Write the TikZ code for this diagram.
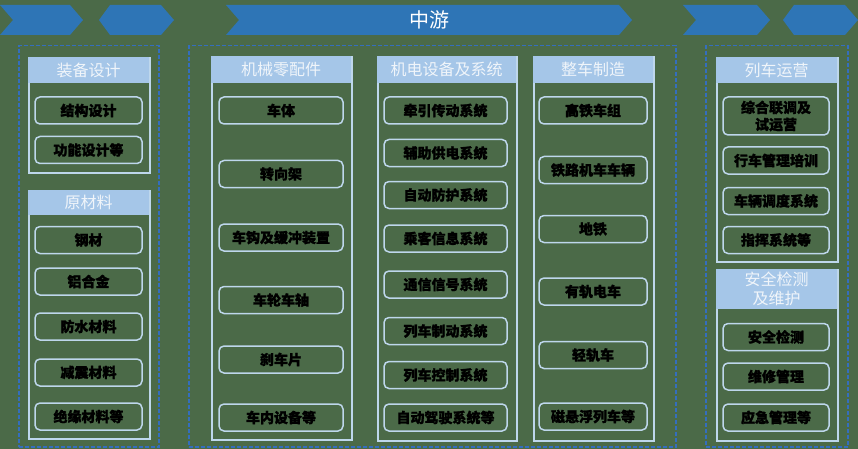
\documentclass[tikz,border=0pt]{standalone}
\usepackage{fontspec}
\newfontfamily\cjk[BoldFeatures={FakeBold=1.5}]{Noto Sans CJK SC}
\definecolor{bg}{RGB}{75,106,72}
\definecolor{arrowblue}{RGB}{46,117,182}
\definecolor{dashblue}{RGB}{52,110,190}
\definecolor{headfill}{RGB}{165,198,232}
\definecolor{lineblue}{RGB}{190,215,236}
\definecolor{headtext}{RGB}{240,245,250}
\tikzset{
  chev/.style={fill=arrowblue, draw=none},
  outerbox/.style={draw=dashblue, line width=1.5pt, dash pattern=on 4pt off 2pt, anchor=north west, inner sep=0pt},
  body/.style={draw=lineblue, line width=1.5pt, anchor=north west, inner sep=0pt},
  head/.style={fill=headfill, draw=none, anchor=north west, inner sep=0pt, text=headtext, align=center,
    font=\cjk\fontsize{16}{19}\selectfont},
  item/.style={draw=lineblue, line width=1.5pt, rounded corners=5pt, inner sep=0pt, text=black, align=center,
    minimum height=27pt, font=\cjk\bfseries\fontsize{14}{16}\selectfont},
  colA/.style={item, minimum width=107pt},
  colB/.style={item, minimum width=124pt},
  colC/.style={item, minimum width=123pt},
  colD/.style={item, minimum width=108pt},
  colE/.style={item, minimum width=106pt},
}
\begin{document}
\begin{tikzpicture}[x=1pt,y=-1pt]
\fill[bg] (0,0) rectangle (858,449);
\useasboundingbox (0,0) rectangle (858,449);
% top arrows
\fill[chev] (0,5) -- (70,5) -- (83,20) -- (70,35) -- (0,35) -- (13,20) -- cycle;
\fill[chev] (110,5) -- (161,5) -- (174,20) -- (161,35) -- (110,35) -- (99,20) -- cycle;
\fill[chev] (226,5) -- (619,5) -- (632,20) -- (619,35) -- (226,35) -- (239,20) -- cycle;
\node[text=white, font=\cjk\fontsize{20}{24}\selectfont] (mid) at (429,20) {中游};
\fill[chev] (683,5) -- (757,5) -- (770,20) -- (757,35) -- (683,35) -- (696,20) -- cycle;
\fill[chev] (794,5) -- (845,5) -- (858,20) -- (845,35) -- (794,35) -- (783,20) -- cycle;
% outer dashed boxes
\node[outerbox, minimum width=140pt, minimum height=401pt] (L) at (18,45) {};
\node[outerbox, minimum width=487pt, minimum height=401pt] (M) at (188,45) {};
\node[outerbox, minimum width=142pt, minimum height=401pt] (R) at (705,45) {};
% left panels
\node[body, minimum width=121pt, minimum height=115pt] (b1) at (28,57) {};
\node[head, minimum width=121pt, minimum height=26pt] (h1) at (28,57) {装备设计};
\node[colA] (a1) at (88.5,110.5) {结构设计};
\node[colA] (a2) at (88.5,150) {功能设计等};
\node[body, minimum width=121pt, minimum height=248pt] (b2) at (28,190) {};
\node[head, minimum width=121pt, minimum height=25pt] (h2) at (28,190) {原材料};
\node[colA] (a3) at (88.5,240) {钢材};
\node[colA] (a4) at (88.5,281.5) {铝合金};
\node[colA] (a5) at (88.5,326.5) {防水材料};
\node[colA] (a6) at (88.5,372.5) {减震材料};
\node[colA] (a7) at (88.5,416.5) {绝缘材料等};
% middle panels
\node[body, minimum width=140pt, minimum height=383pt] (b3) at (211,56) {};
\node[head, minimum width=140pt, minimum height=27pt] (h3) at (211,56) {机械零配件};
\node[colB] (m1) at (281,110.5) {车体};
\node[colB] (m2) at (281,174) {转向架};
\node[colB] (m3) at (281,237.5) {车钩及缓冲装置};
\node[colB] (m4) at (281,300) {车轮车轴};
\node[colB] (m5) at (281,359.5) {刹车片};
\node[colB] (m6) at (281,417.5) {车内设备等};
\node[body, minimum width=139pt, minimum height=384pt] (b4) at (377,56) {};
\node[head, minimum width=139pt, minimum height=27pt] (h4) at (377,56) {机电设备及系统};
\node[colC] (e1) at (445.5,110.5) {牵引传动系统};
\node[colC] (e2) at (445.5,153) {辅助供电系统};
\node[colC] (e3) at (445.5,195) {自动防护系统};
\node[colC] (e4) at (445.5,238.5) {乘客信息系统};
\node[colC] (e5) at (445.5,284.5) {通信信号系统};
\node[colC] (e6) at (445.5,331) {列车制动系统};
\node[colC] (e7) at (445.5,375) {列车控制系统};
\node[colC] (e8) at (445.5,417.5) {自动驾驶系统等};
\node[body, minimum width=120pt, minimum height=384pt] (b5) at (533,56) {};
\node[head, minimum width=120pt, minimum height=27pt] (h5) at (533,56) {整车制造};
\node[colD] (v1) at (593,110.5) {高铁车组};
\node[colD] (v2) at (593,170) {铁路机车车辆};
\node[colD] (v3) at (593,229) {地铁};
\node[colD] (v4) at (593,291.5) {有轨电车};
\node[colD] (v5) at (593,355) {轻轨车};
\node[colD] (v6) at (593,416.5) {磁悬浮列车等};
% right panels
\node[body, minimum width=121pt, minimum height=204pt] (b6) at (716,57) {};
\node[head, minimum width=121pt, minimum height=26pt] (h6) at (716,57) {列车运营};
\node[colE, minimum height=38pt, font=\cjk\bfseries\fontsize{14}{17}\selectfont] (o1) at (776,116) {综合联调及\\试运营};
\node[colE] (o2) at (776,160.5) {行车管理培训};
\node[colE] (o3) at (776,201) {车辆调度系统};
\node[colE] (o4) at (776,240) {指挥系统等};
\node[body, minimum width=121pt, minimum height=171pt] (b7) at (716,269) {};
\node[head, minimum width=121pt, minimum height=40pt, font=\cjk\fontsize{16}{19}\selectfont] (h7) at (716,269) {安全检测\\及维护};
\node[colE] (s1) at (776,337) {安全检测};
\node[colE] (s2) at (776,376.5) {维修管理};
\node[colE] (s3) at (776,417.5) {应急管理等};
\end{tikzpicture}
\end{document}
